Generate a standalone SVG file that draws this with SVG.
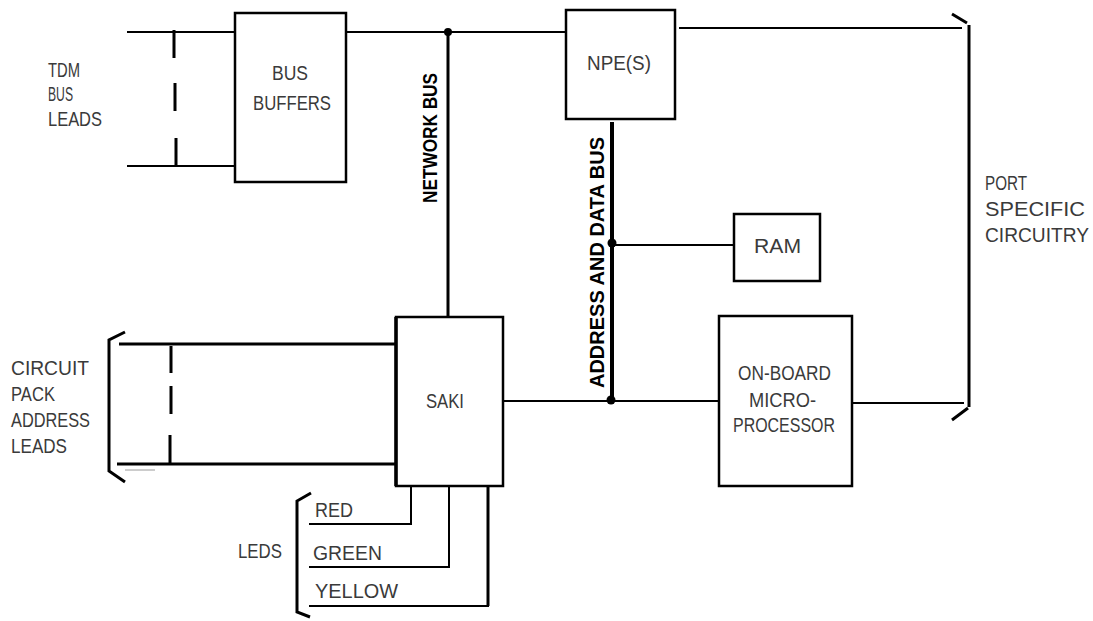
<svg xmlns="http://www.w3.org/2000/svg" width="1093" height="621" viewBox="0 0 1093 621">
<style>
.ln{stroke:#000;stroke-width:2;fill:none;stroke-linecap:butt}
.th{stroke:#000;stroke-width:3;fill:none}
.bx{stroke:#000;stroke-width:2.5;fill:#fff}
.t{font-family:"Liberation Sans",Arial,sans-serif;font-size:20px;fill:#3a3a3a}
.b{font-family:"Liberation Sans",Arial,sans-serif;font-size:19.5px;font-weight:bold;fill:#000}
</style>
<rect width="1093" height="621" fill="#fff"/>
<g id="connectors">
<line class="ln" x1="127" y1="32" x2="235" y2="32"/>
<line class="ln" x1="127" y1="166" x2="237" y2="166"/>
<path class="th" d="M174 30V58M175 83V111M176 138V166"/>
<line class="ln" x1="346" y1="32" x2="566" y2="32"/>
<line class="th" x1="448" y1="32" x2="448" y2="317"/>
<circle cx="448" cy="32" r="4"/>
<line class="ln" x1="679" y1="28" x2="962" y2="28"/>
<line stroke="#000" stroke-width="4" x1="612" y1="122" x2="612" y2="401"/>
<circle cx="612" cy="243" r="4.5"/>
<circle cx="611" cy="400" r="4.5"/>
<line class="ln" x1="612" y1="245" x2="734" y2="245"/>
<line class="ln" x1="503" y1="401" x2="719" y2="401"/>
<line class="ln" x1="852" y1="403" x2="964" y2="403"/>
<path class="th" d="M952 14L967 23M969 25V407M968 408L952 420"/>
<line class="th" x1="119" y1="344" x2="396" y2="344"/>
<line class="th" x1="117" y1="464" x2="396" y2="464"/>
<path class="th" d="M171 346V373M171 386V414M170 435V464"/>
<path class="th" d="M125 332L109 340V471L125 482"/>
<line stroke="#999" stroke-width="1" x1="125" y1="470" x2="155" y2="470"/>
<path class="ln" d="M411 486V524H309"/>
<path class="ln" d="M449 486V567H309"/>
<path class="ln" d="M488 486V606H309"/>
<line class="th" x1="488" y1="486" x2="488" y2="606"/>
<path class="th" d="M311 493L297 501V612L310 617"/>
</g>
<g id="tdm-label">
<text class="t" x="48" y="77" textLength="32" lengthAdjust="spacingAndGlyphs">TDM</text>
<text class="t" x="48" y="101" textLength="25" lengthAdjust="spacingAndGlyphs">BUS</text>
<text class="t" x="48" y="126" textLength="54" lengthAdjust="spacingAndGlyphs">LEADS</text>
</g>
<g id="bus-buffers">
<rect class="bx" x="235" y="13" width="111" height="169"/>
<text class="t" x="272" y="80" textLength="36" lengthAdjust="spacingAndGlyphs">BUS</text>
<text class="t" x="253" y="110" textLength="78" lengthAdjust="spacingAndGlyphs">BUFFERS</text>
</g>
<g id="npe">
<rect class="bx" x="566" y="10" width="109" height="109"/>
<text class="t" x="587" y="70" textLength="64" lengthAdjust="spacingAndGlyphs">NPE(S)</text>
</g>
<g id="network-bus-label">
<text class="b" transform="translate(437,203) rotate(-90)" textLength="130" lengthAdjust="spacingAndGlyphs">NETWORK BUS</text>
</g>
<g id="address-bus-label">
<text class="b" transform="translate(604,388) rotate(-90)" textLength="251" lengthAdjust="spacingAndGlyphs">ADDRESS AND DATA BUS</text>
</g>
<g id="ram">
<rect class="bx" x="734" y="214" width="86" height="67"/>
<text class="t" x="754" y="253" textLength="47" lengthAdjust="spacingAndGlyphs">RAM</text>
</g>
<g id="saki">
<rect class="bx" x="396" y="317" width="107" height="169"/>
<line stroke="#000" stroke-width="3.5" x1="396" y1="317" x2="396" y2="486"/>
<text class="t" x="426" y="408" textLength="38" lengthAdjust="spacingAndGlyphs">SAKI</text>
</g>
<g id="microprocessor">
<rect class="bx" x="719" y="316" width="133" height="170"/>
<text class="t" x="738" y="380" textLength="93" lengthAdjust="spacingAndGlyphs">ON-BOARD</text>
<text class="t" x="749" y="407" textLength="67" lengthAdjust="spacingAndGlyphs">MICRO-</text>
<text class="t" x="733" y="432" textLength="102" lengthAdjust="spacingAndGlyphs">PROCESSOR</text>
</g>
<g id="port-label">
<text class="t" x="985" y="190" textLength="42" lengthAdjust="spacingAndGlyphs">PORT</text>
<text class="t" x="985" y="216" textLength="100" lengthAdjust="spacingAndGlyphs">SPECIFIC</text>
<text class="t" x="985" y="242" textLength="104" lengthAdjust="spacingAndGlyphs">CIRCUITRY</text>
</g>
<g id="cp-label">
<text class="t" x="11" y="375" textLength="78" lengthAdjust="spacingAndGlyphs">CIRCUIT</text>
<text class="t" x="11" y="401" textLength="44" lengthAdjust="spacingAndGlyphs">PACK</text>
<text class="t" x="11" y="427" textLength="79" lengthAdjust="spacingAndGlyphs">ADDRESS</text>
<text class="t" x="11" y="453" textLength="56" lengthAdjust="spacingAndGlyphs">LEADS</text>
</g>
<g id="leds">
<text class="t" x="238" y="558" textLength="44" lengthAdjust="spacingAndGlyphs">LEDS</text>
<text class="t" x="315" y="517" textLength="38" lengthAdjust="spacingAndGlyphs">RED</text>
<text class="t" x="313" y="560" textLength="69" lengthAdjust="spacingAndGlyphs">GREEN</text>
<text class="t" x="315" y="598" textLength="83" lengthAdjust="spacingAndGlyphs">YELLOW</text>
</g>
</svg>
